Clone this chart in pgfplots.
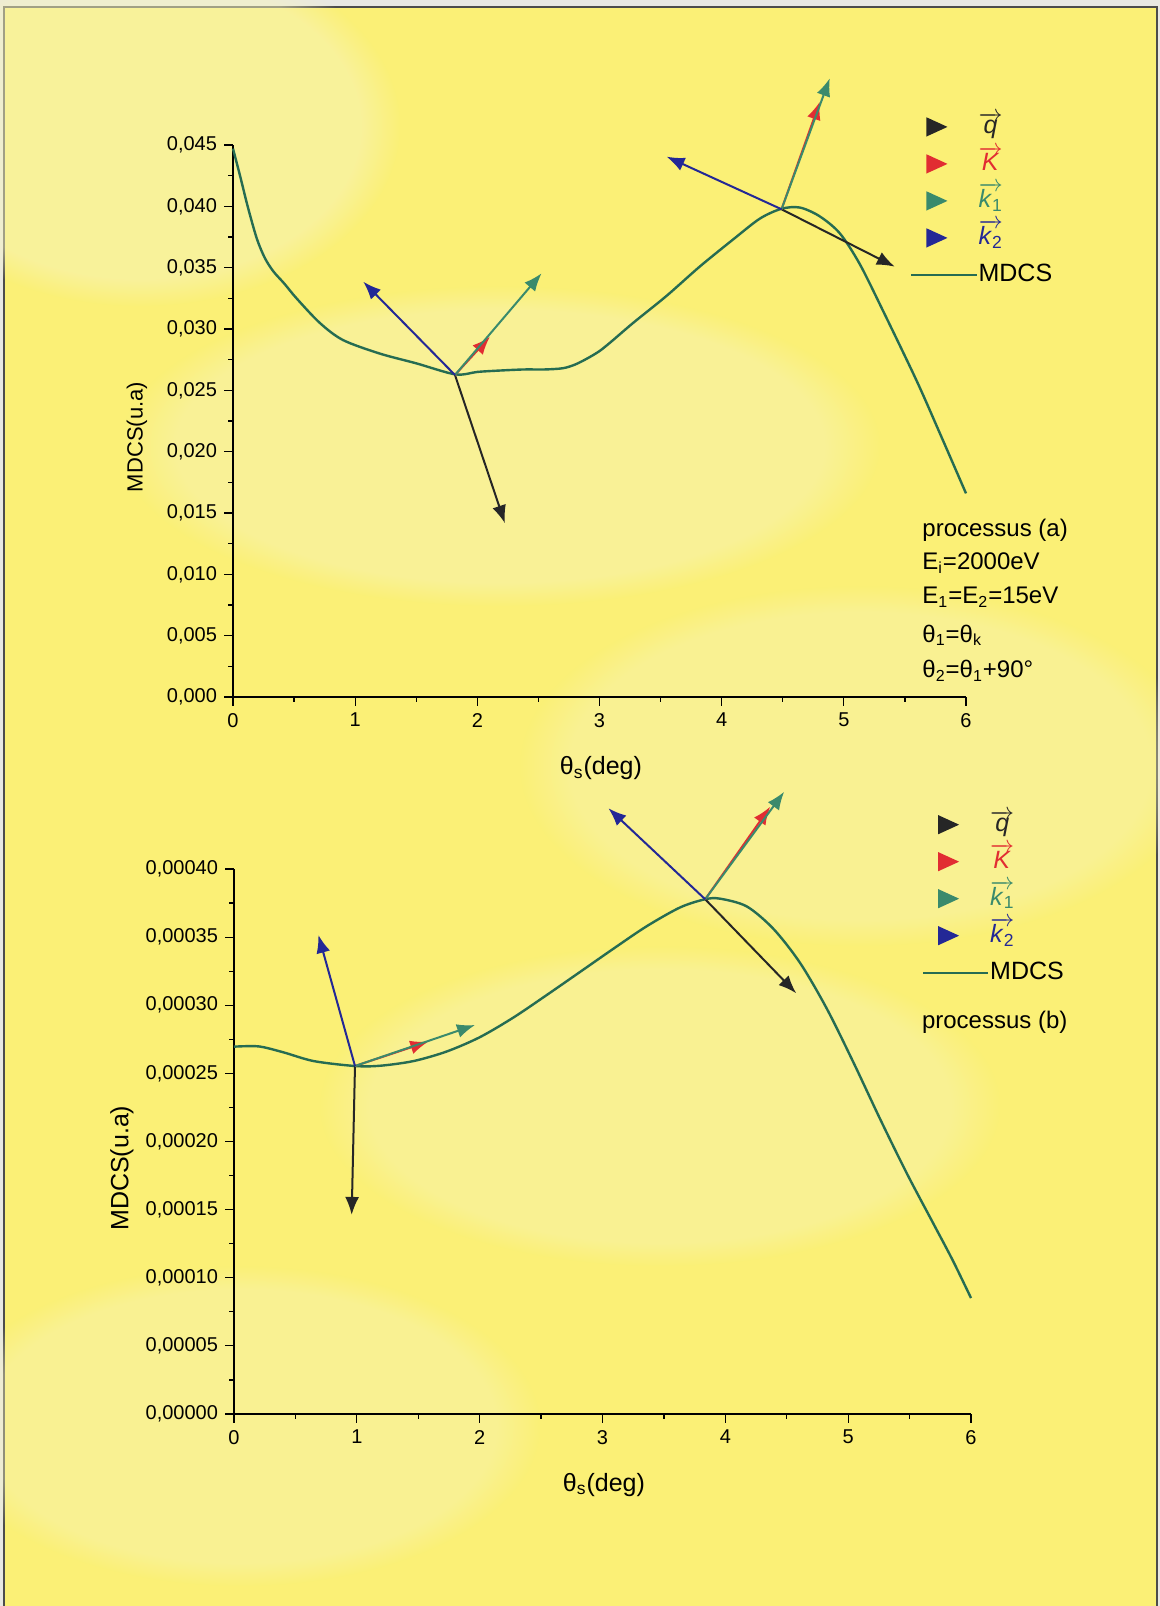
\documentclass[border=0pt]{standalone}
\usepackage{fontspec}
\setmainfont{Liberation Sans}
\usepackage{pgfplots}
\pgfplotsset{compat=1.18}
\usetikzlibrary{arrows.meta,fadings}
\definecolor{outerc}{RGB}{232,232,226}
\definecolor{bgyel}{RGB}{251,240,118}
\definecolor{palec}{RGB}{247,244,190}
\definecolor{curveg}{RGB}{38,108,82}
\definecolor{qcol}{RGB}{38,38,38}
\definecolor{kcol}{RGB}{225,45,50}
\definecolor{kacol}{RGB}{58,138,108}
\definecolor{kbcol}{RGB}{35,40,150}
\pgfplotsset{mystyle/.style={
  scale only axis, axis lines*=left, clip=false,
  tick align=outside, major tick length=4.5pt, minor tick length=2.5pt,
  every tick/.style={black, line width=0.6pt},
  axis line style={black, line width=0.7pt},
  xmin=0, xmax=6, xtick={0,1,2,3,4,5,6}, xticklabels={0,1,2,3,4,5,6},
  minor x tick num=1, minor y tick num=1,
  ticklabel style={font=\fontsize{10}{12}\selectfont},
  label style={font=\fontsize{12.5}{14}\selectfont},
  xlabel={θ\textsubscript{s}(deg)}, ylabel={MDCS(u.a)},
  scaled y ticks=false,
  legend cell align=left,
  legend style={draw=none, fill=none, inner sep=0pt, font=\fontsize{12.5}{14}\selectfont,
    nodes={inner sep=0.5pt, text height=12pt, text depth=5.5pt},
    /tikz/every even column/.append style={column sep=3pt}},
  legend image code/.code={\draw[##1, line width=1.1pt] (0pt,0pt) -- (32.5pt,0pt);},
  arr/.style={-{Latex[length=9pt,width=7pt]}, line width=1pt, forget plot},
}}
\newcommand{\tri}[1]{\addlegendimage{legend image code/.code={\path[draw=none,fill=none] (0pt,-1pt) rectangle (32.5pt,1pt); \path[draw=none, fill=#1] (7.5pt,-4.8pt) -- (18pt,0pt) -- (7.5pt,4.8pt) -- cycle;}}}
\begin{document}
\begin{tikzpicture}
% page
\fill[outerc] (0,0) rectangle (580pt,803pt);
\fill[bgyel, draw=black!70, line width=0.6pt] (2pt,-2pt) rectangle (578.5pt,799.5pt);
\begin{scope}[every path/.style={draw=none}]
\fill[palec, path fading=circle with fuzzy edge 15 percent, opacity=0.5] (70pt,740pt) ellipse (130pt and 90pt);
\fill[palec, path fading=circle with fuzzy edge 15 percent, opacity=0.45] (250pt,580pt) ellipse (190pt and 80pt);
\fill[palec, path fading=circle with fuzzy edge 15 percent, opacity=0.4] (430pt,420pt) ellipse (170pt and 90pt);
\fill[palec, path fading=circle with fuzzy edge 15 percent, opacity=0.4] (330pt,250pt) ellipse (170pt and 80pt);
\fill[palec, path fading=circle with fuzzy edge 15 percent, opacity=0.4] (120pt,90pt) ellipse (150pt and 80pt);
\end{scope}
% ---------------- top axis
\begin{axis}[mystyle, at={(116.5pt,454.5pt)}, anchor=south west,
  width=366.5pt, height=276pt, ymin=0, ymax=0.045,
  ytick={0,0.005,0.010,0.015,0.020,0.025,0.030,0.035,0.040,0.045},
  yticklabels={{0,000},{0,005},{0,010},{0,015},{0,020},{0,025},{0,030},{0,035},{0,040},{0,045}},
  xlabel style={at={(axis description cs:0.502,-0.129)}, anchor=center},
  ylabel style={at={(axis description cs:-0.131,0.471)}, anchor=center, font=\fontsize{11}{13}\selectfont},
  legend style={at={(0.9236,1.067)}, anchor=north west}]
\tri{qcol}\addlegendentry{\color{qcol}$\overrightarrow{\mbox{\textit{q}}}$}
\tri{kcol}\addlegendentry{\color{kcol}$\overrightarrow{\mbox{\textit{K}}}$}
\tri{kacol}\addlegendentry{\color{kacol}$\overrightarrow{\mbox{\textit{k}\textsubscript{1}}}$}
\tri{kbcol}\addlegendentry{\color{kbcol}$\overrightarrow{\mbox{\textit{k}\textsubscript{2}}}$}
\addplot[curveg, line width=1.2pt, smooth] table {
x y
0.000 0.0447
0.06 0.0424
0.12 0.0400
0.194 0.0374
0.26 0.0358
0.33 0.0347
0.42 0.0337
0.52 0.0325
0.71 0.0305
0.90 0.0291
1.20 0.0280
1.50 0.0272
1.82 0.0263
2.00 0.0265
2.16 0.0266
2.38 0.0267
2.55 0.0267
2.70 0.0268
2.80 0.0271
2.90 0.0276
3.00 0.0282
3.10 0.0290
3.276 0.0305
3.549 0.0327
3.822 0.0351
4.094 0.0373
4.313 0.0390
4.490 0.0398
4.64 0.0399
4.80 0.0392
4.967 0.0378
5.13 0.0353
5.32 0.0315
5.595 0.0258
5.786 0.0215
6.0 0.0166
};
\addlegendentry{MDCS}
% arrows at minimum
\addplot[arr, qcol] coordinates {(1.817,0.02625) (2.226,0.01416)};
\addplot[arr, kcol] coordinates {(1.817,0.02625) (2.103,0.02937)};
\addplot[arr, kacol] coordinates {(1.817,0.02625) (2.526,0.03454)};
\addplot[arr, kbcol] coordinates {(1.817,0.02625) (1.066,0.03386)};
% arrows at maximum
\addplot[arr, qcol] coordinates {(4.490,0.03976) (5.417,0.03508)};
\addplot[arr, kcol] coordinates {(4.490,0.03976) (4.804,0.04853)};
\addplot[arr, kacol] coordinates {(4.490,0.03976) (4.885,0.05044)};
\addplot[arr, kbcol] coordinates {(4.490,0.03976) (3.549,0.04405)};
\begin{scope}[every node/.style={anchor=west, inner sep=0pt, font=\fontsize{12}{14}\selectfont}]
\node at (rel axis cs:0.94,0.3025) {processus (a)};
\node at (rel axis cs:0.94,0.243) {E\textsubscript{i}=2000eV};
\node at (rel axis cs:0.94,0.181) {E\textsubscript{1}=E\textsubscript{2}=15eV};
\node at (rel axis cs:0.94,0.112) {θ\textsubscript{1}=θ\textsubscript{k}};
\node at (rel axis cs:0.94,0.047) {θ\textsubscript{2}=θ\textsubscript{1}+90°};
\end{scope}
\end{axis}
% ---------------- bottom axis
\begin{axis}[mystyle, at={(117pt,96pt)}, anchor=south west,
  width=368.5pt, height=272.5pt, ymin=0, ymax=0.0004,
  ytick={0,0.00005,0.0001,0.00015,0.0002,0.00025,0.0003,0.00035,0.0004},
  yticklabels={{0,00000},{0,00005},{0,00010},{0,00015},{0,00020},{0,00025},{0,00030},{0,00035},{0,00040}},
  xlabel style={at={(axis description cs:0.502,-0.130)}, anchor=center},
  ylabel style={at={(axis description cs:-0.152,0.451)}, anchor=center},
  legend style={at={(0.933,1.116)}, anchor=north west}]
\tri{qcol}\addlegendentry{\color{qcol}$\overrightarrow{\mbox{\textit{q}}}$}
\tri{kcol}\addlegendentry{\color{kcol}$\overrightarrow{\mbox{\textit{K}}}$}
\tri{kacol}\addlegendentry{\color{kacol}$\overrightarrow{\mbox{\textit{k}\textsubscript{1}}}$}
\tri{kbcol}\addlegendentry{\color{kbcol}$\overrightarrow{\mbox{\textit{k}\textsubscript{2}}}$}
\addplot[curveg, line width=1.2pt, smooth] table {
x y
0.000 0.0002696
0.20 0.0002698
0.40 0.0002655
0.65 0.0002590
0.985 0.0002554
1.19 0.0002556
1.46 0.0002590
1.73 0.0002660
2.00 0.0002765
2.275 0.0002910
2.546 0.0003075
2.818 0.0003245
3.089 0.0003415
3.36 0.0003580
3.632 0.0003718
3.836 0.0003778
3.958 0.0003782
4.175 0.0003725
4.392 0.0003560
4.609 0.0003310
4.826 0.0002975
5.043 0.0002580
5.26 0.0002165
5.478 0.0001765
5.695 0.0001395
5.85 0.0001130
6.0 0.0000851
};
\addlegendentry{MDCS}
\addplot[arr, qcol] coordinates {(0.985,0.0002554) (0.958,0.0001461)};
\addplot[arr, kcol] coordinates {(0.985,0.0002554) (1.582,0.0002733)};
\addplot[arr, kacol] coordinates {(0.985,0.0002554) (1.962,0.0002855)};
\addplot[arr, kbcol] coordinates {(0.985,0.0002554) (0.687,0.0003516)};
\addplot[arr, qcol] coordinates {(3.836,0.0003778) (4.577,0.0003088)};
\addplot[arr, kcol] coordinates {(3.836,0.0003778) (4.365,0.0004457)};
\addplot[arr, kacol] coordinates {(3.836,0.0003778) (4.479,0.0004567)};
\addplot[arr, kbcol] coordinates {(3.836,0.0003778) (3.048,0.0004446)};
\node[anchor=west, inner sep=0pt, font=\fontsize{12}{14}\selectfont] at (rel axis cs:0.933,0.719) {processus (b)};
\end{axis}
\pgfresetboundingbox
\useasboundingbox (0,0) rectangle (580pt,803pt);
\end{tikzpicture}
\end{document}
